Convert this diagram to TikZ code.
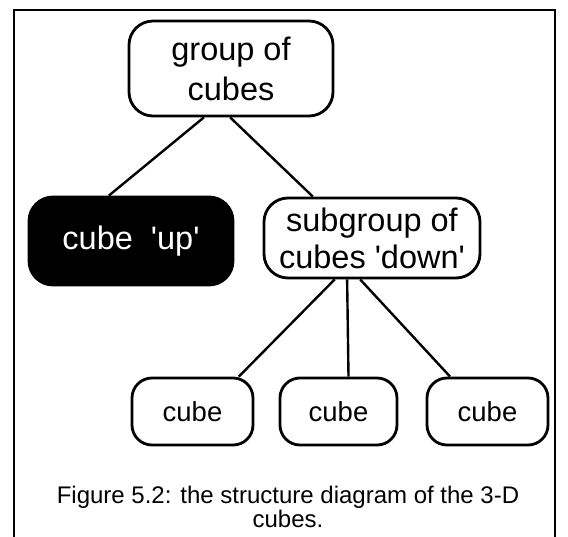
\documentclass[tikz,border=0pt]{standalone}
\usepackage{fontspec}
\setmainfont{Liberation Sans}[Ligatures=TeXOff]
\begin{document}
\begin{tikzpicture}[x=1pt,y=-1pt,
  box/.style={draw, line width=2.8pt, rounded corners=24pt, align=center,
    inner sep=0pt, font=\fontsize{32.5}{40}\selectfont},
  leaf/.style={box, rounded corners=20pt, minimum height=67,
    font=\fontsize{27.5}{32}\selectfont},
  link/.style={line width=2.4pt}]
  \useasboundingbox (0,0) rectangle (568,536);
  \draw[line width=1.4pt] (14,545) -- (14,10) -- (555,10) -- (555,545);
  \node[box, minimum width=204, minimum height=95] (grp) at (231,68.5) {group of\\cubes};
  \node[box, fill=black, text=white, minimum width=204, minimum height=88] (up) at (131,241) {cube\ \ 'up'};
  \node[box, font=\fontsize{32.5}{37}\selectfont, minimum width=216, minimum height=80] (sub) at (372,238) {subgroup of\\cubes 'down'};
  \node[leaf, minimum width=121] (c1) at (192.5,411.5) {cube};
  \node[leaf, minimum width=117] (c2) at (338.5,411.5) {cube};
  \node[leaf, minimum width=121] (c3) at (487.5,411.5) {cube};
  \draw[link] (grp.-119.6) -- (up.116.6);
  \draw[link] (grp.-91) -- (sub.145.4);
  \draw[link] (sub.-132) -- (c1.37);
  \draw[link] (sub.-121) -- (c2.74);
  \draw[link] (sub.-106.7) -- (c3.137.5);
  \node[font=\fontsize{24}{23.5}\selectfont, align=center] (cap) at (288,507)
    {Figure 5.2: the structure diagram of the 3-D\\cubes.};
\end{tikzpicture}
\end{document}
